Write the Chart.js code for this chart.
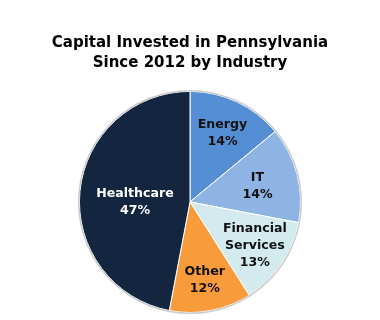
<!DOCTYPE html>
<html>
<head>
<meta charset="utf-8">
<script src="https://cdn.jsdelivr.net/npm/chart.js@4/dist/chart.umd.min.js"></script>
<style>
  html, body { margin: 0; padding: 0; background: #fff; }
  #wrap { width: 380px; height: 320px; }
</style>
</head>
<body>
<div id="wrap"><canvas id="pie"></canvas></div>
<script>
// industries, clockwise from 12 o'clock
const sectors = ['Energy', 'IT', 'Financial Services', 'Other', 'Healthcare'];
const labelLines = [['Energy'], ['IT'], ['Financial', 'Services'], ['Other'], ['Healthcare']];
const shares = [14, 14, 13, 12, 47];
const colours = ['#558ed5', '#8eb4e3', '#d3ebef', '#f89b3a', '#13253f'];
const textColours = ['#111', '#111', '#111', '#111', '#fff'];

const FONT = '"DejaVu Sans", Verdana, sans-serif';
// how far out (fraction of radius) each label sits, plus a small vertical nudge
const labelRadius = [0.69, 0.63, 0.71, 0.71, 0.50];
const labelNudge = [0, 2, 0, 1, 5];

// draws name + percentage inside each slice
const sliceLabels = {
    id: 'sliceLabels',
    afterDatasetsDraw(chart) {
        const ctx = chart.ctx;
        const arcs = chart.getDatasetMeta(0).data;
        ctx.save();
        ctx.font = 'bold 12.6px ' + FONT;
        ctx.textAlign = 'center';
        ctx.textBaseline = 'middle';
        arcs.forEach(function (arc, i) {
            const mid = (arc.startAngle + arc.endAngle) / 2;
            const k = labelRadius[i];
            const x = arc.x + Math.cos(mid) * arc.outerRadius * k;
            const y = arc.y + Math.sin(mid) * arc.outerRadius * k + labelNudge[i];
            const lines = labelLines[i].concat([shares[i] + '%']);
            const lh = 17;
            const y0 = y - (lines.length - 1) * lh / 2;
            ctx.fillStyle = textColours[i];
            lines.forEach(function (t, j) { ctx.fillText(t, x, y0 + j * lh); });
        });
        ctx.restore();
    },
    // thin grey rim round the pie
    afterDraw(chart) {
        const arc = chart.getDatasetMeta(0).data[0];
        if (!arc) return;
        const ctx = chart.ctx;
        ctx.save();
        ctx.strokeStyle = 'rgba(170,170,170,0.6)';
        ctx.lineWidth = 1.5;
        ctx.beginPath();
        ctx.arc(arc.x, arc.y, arc.outerRadius + 0.75, 0, Math.PI * 2);
        ctx.stroke();
        ctx.restore();
    }
};

new Chart(document.getElementById('pie').getContext('2d'), {
    type: 'pie',
    data: {
        labels: sectors,
        datasets: [{
            data: shares,
            backgroundColor: colours,
            borderColor: '#ffffff',
            borderWidth: 1
        }]
    },
    options: {
        responsive: true,
        maintainAspectRatio: false,
        animation: false,
        layout: { padding: { bottom: 7 } },
        plugins: {
            legend: { display: false },
            tooltip: { enabled: false },
            title: {
                display: true,
                text: ['Capital Invested in Pennsylvania', 'Since 2012 by Industry'],
                color: '#000',
                font: { family: FONT, size: 15, weight: 'bold', lineHeight: 1.33 },
                padding: { top: 33, bottom: 18 }
            }
        }
    },
    plugins: [sliceLabels]
});
</script>
</body>
</html>
